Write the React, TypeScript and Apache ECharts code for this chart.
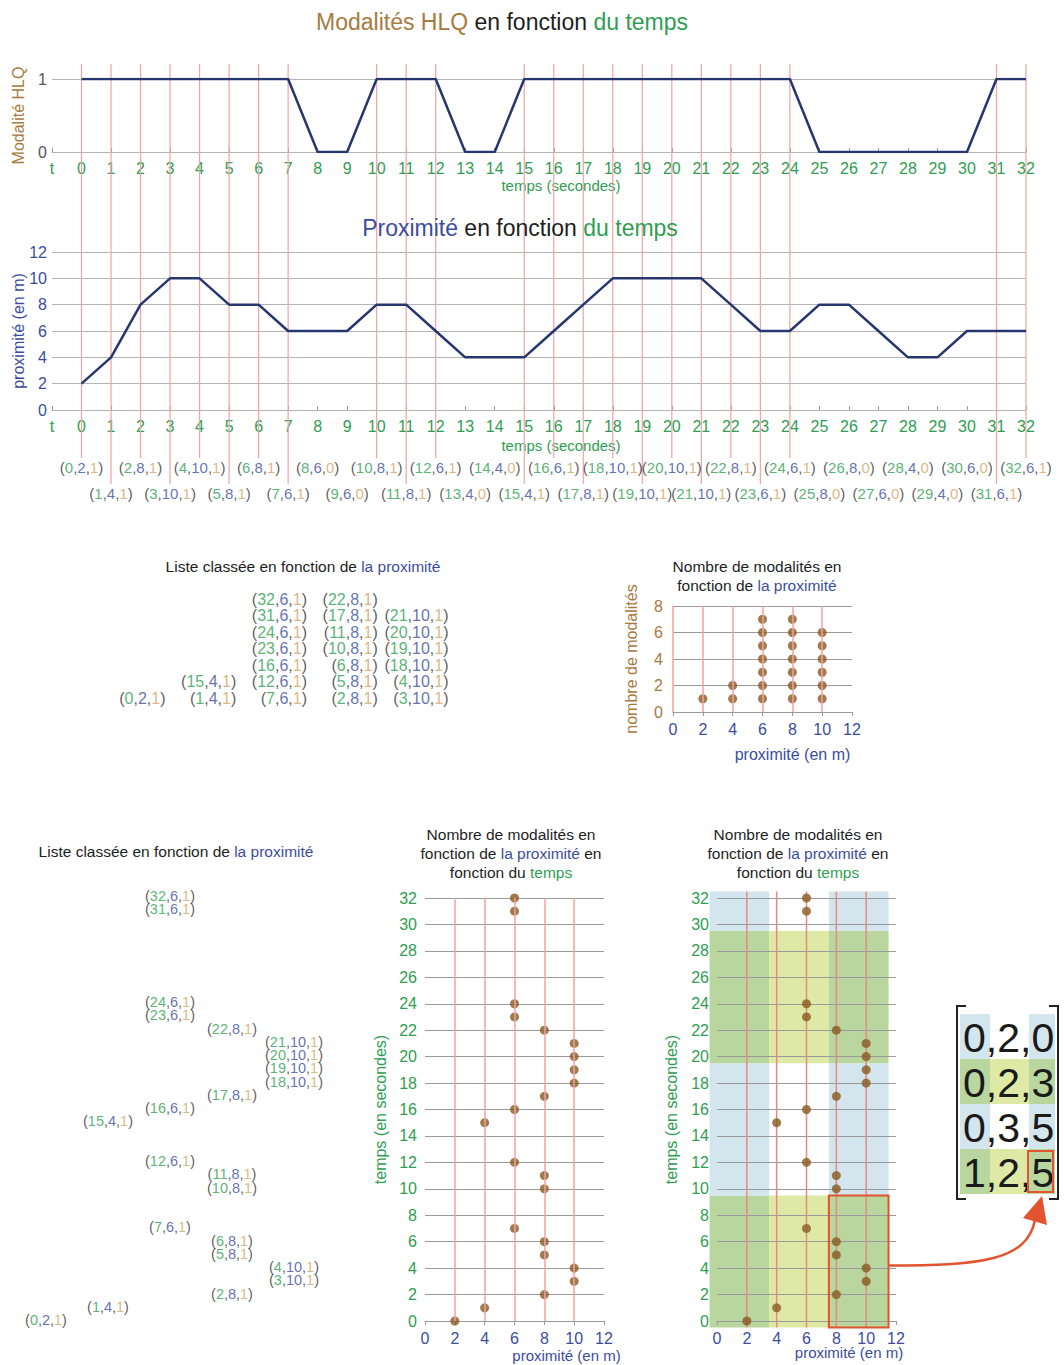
import React, { useEffect, useRef } from "react";
import * as echarts from "echarts";

// ---------------- data ----------------
const times = [0, 1, 2, 3, 4, 5, 6, 7, 8, 9, 10, 11, 12, 13, 14, 15, 16, 17, 18, 19, 20, 21, 22, 23, 24, 25, 26, 27, 28, 29, 30, 31, 32];
const hlq = [1, 1, 1, 1, 1, 1, 1, 1, 0, 0, 1, 1, 1, 0, 0, 1, 1, 1, 1, 1, 1, 1, 1, 1, 1, 0, 0, 0, 0, 0, 0, 1, 1];
const prox = [2, 4, 8, 10, 10, 8, 8, 6, 6, 6, 8, 8, 6, 4, 4, 4, 6, 8, 10, 10, 10, 10, 8, 6, 6, 8, 8, 6, 4, 4, 6, 6, 6];
const proxLevels = [2, 4, 6, 8, 10];
const proxBins = [[-0.5, 3.5], [3.5, 7.5], [7.5, 11.5]];
const timeBins = [[-0.5, 9.5], [9.5, 19.5], [19.5, 29.5], [29.5, 32.5]];
const matrixRows = [[0, 2, 0], [0, 2, 3], [0, 3, 5], [1, 2, 5]];
const highlightBin = { time: 0, prox: 2 };
const firstTickLabel = "t";

// ---------------- styles / layout ----------------
const FONT = "'Liberation Sans', Arial, Helvetica, sans-serif";
const C = {
  green: "#2f9e52",
  blue: "#3c4d9e",
  brown: "#a87a3e",
  tan: "#d4a464",
  dark: "#1e1e1e",
  punct: "#333333",
  line: "#26366f",
  redLine: "#f2a2a2",
  red: "#e2542f",
  point: "#8a5a22",
  grid: "#b4b4b4",
  gridDark: "#9a9a9a",
  bandBlue: "#d3e6ed",
  bandGreen: "#b8d69e",
  bandYellow: "#dfe9a6",
};
const G = [
  { left: 52, top: 79, width: 974, height: 73 }, // 0 HLQ
  { left: 52, top: 252, width: 974, height: 158 }, // 1 proximité
  { left: 52, top: 467, width: 974, height: 26 }, // 2 tuples
  { left: 166, top: 599, width: 283, height: 99 }, // 3 list 1
  { left: 673, top: 606, width: 179, height: 106 }, // 4 counts
  { left: 46, top: 896, width: 248, height: 424 }, // 5 list 2
  { left: 425, top: 898, width: 179, height: 423 }, // 6 scatter
  { left: 717, top: 898, width: 179, height: 423 }, // 7 scatter with bands
];
const RED_TOP = 64;
const RED_BOTTOM_EVEN = 458;
const RED_BOTTOM_ODD = 484;
const MX = [960, 990, 1029, 1055];
const MY0 = 1014;
const MRH = 45;

// ---------------- derived ----------------
const tuples = times.map((t, i) => ({ t, p: prox[i], m: hlq[i] }));
const active = tuples.filter((d) => d.m === 1);
const ranked: number[][] = [];
proxLevels.forEach((p) => {
  active
    .filter((d) => d.p === p)
    .forEach((d, k) => ranked.push([p, k + 1, d.t, d.p, d.m]));
});

const cellColor = (ti: number, pj: number) =>
  ti % 2 === 0 ? (pj === 1 ? C.bandYellow : C.bandGreen) : pj === 1 ? null : C.bandBlue;

const tupleRich = (fs: number, lh?: number) => {
  const mk = (color: string) => ({ color, fontSize: fs, fontFamily: FONT, ...(lh ? { lineHeight: lh } : {}) });
  return { d: mk(C.punct), t: mk(C.green), p: mk(C.blue), m: mk(C.tan) };
};
const tupleFmt = (t: number, p: number, m: number) =>
  `{d|(}{t|${t}}{d|,}{p|${p}}{d|,}{m|${m}}{d|)}`;

const lbl = (color: string, size = 16, margin = 8) => ({ color, fontSize: size, fontFamily: FONT, margin });

function timeXAxis(gridIndex: number, nameGap: number) {
  return {
    gridIndex,
    type: "value",
    min: -1,
    max: 32,
    interval: 1,
    axisLine: { show: true, lineStyle: { color: C.grid } },
    axisTick: { show: true, inside: true, length: 4, lineStyle: { color: C.gridDark } },
    axisLabel: { ...lbl(C.green, 16, 8), formatter: (v: number) => (v === -1 ? firstTickLabel : String(v)) },
    splitLine: { show: false },
    name: "temps (secondes)",
    nameLocation: "middle",
    nameGap,
    nameMoveOverlap: false,
    nameTextStyle: { color: C.green, fontSize: 15, fontFamily: FONT, padding: [0, 0, 0, 44] },
  };
}

function proxXAxis(gridIndex: number, nameGap: number, padLeft: number, nameSize = 16) {
  return {
    gridIndex,
    type: "value",
    min: 0,
    max: 12,
    interval: 2,
    axisLine: { show: true, lineStyle: { color: C.gridDark } },
    axisTick: { show: true, length: 4, lineStyle: { color: C.gridDark } },
    axisLabel: lbl(C.blue, 16, 9),
    splitLine: { show: false },
    name: "proximité (en m)",
    nameLocation: "middle",
    nameGap,
    nameMoveOverlap: false,
    nameTextStyle: { color: C.blue, fontSize: nameSize, fontFamily: FONT, padding: [0, 0, 0, padLeft] },
  };
}

function valYAxis(gridIndex: number, max: number, interval: number, color: string, name: string, nameGap: number, nameColor: string, margin: number, nameSize = 16) {
  return {
    gridIndex,
    type: "value",
    min: 0,
    max,
    interval,
    axisLine: { show: false },
    axisTick: { show: false },
    axisLabel: lbl(color, 16, margin),
    splitLine: { show: true, lineStyle: { color: C.gridDark, width: 1 } },
    name,
    nameLocation: "middle",
    nameGap,
    nameMoveOverlap: false,
    nameTextStyle: { color: nameColor, fontSize: nameSize, fontFamily: FONT },
  };
}

const hidden = (gridIndex: number, min: number, max: number) => ({ gridIndex, type: "value", min, max, show: false });

function buildOption(): any {
  const grid = G.map((g) => ({ ...g, containLabel: false, outerBoundsMode: "none", show: false }));

  const xAxis = [
    timeXAxis(0, 26),
    timeXAxis(1, 28),
    hidden(2, -1, 32),
    hidden(3, 2, 10),
    proxXAxis(4, 34, 60),
    hidden(5, 2, 10),
    proxXAxis(6, 27, 104, 15),
    proxXAxis(7, 24, 85, 15),
  ];
  const y0 = valYAxis(0, 1, 1, "#555555", "Modalité HLQ", 26, C.brown, 5, 16);
  (y0 as any).splitLine.lineStyle.color = C.grid;
  const y1 = valYAxis(1, 12, 2, C.blue, "proximité (en m)", 26, C.blue, 5, 16);
  (y1 as any).splitLine.lineStyle.color = C.grid;
  const yAxis = [
    y0,
    y1,
    hidden(2, 0, 1),
    hidden(3, 1, 7),
    valYAxis(4, 8, 2, C.brown, "nombre de modalités", 34, C.brown, 10),
    hidden(5, 0, 32),
    valYAxis(6, 32, 2, C.green, "temps (en secondes)", 37, C.green, 8),
    valYAxis(7, 32, 2, C.green, "temps (en secondes)", 38, C.green, 8),
  ];

  const redMark = (vals: number[]) => ({
    silent: true,
    symbol: ["none", "none"],
    label: { show: false },
    lineStyle: { color: C.redLine, width: 1.5, type: "solid" },
    emphasis: { disabled: true },
    data: vals.map((v) => ({ xAxis: v })),
  });

  const series: any[] = [
    {
      type: "line",
      xAxisIndex: 0,
      yAxisIndex: 0,
      data: times.map((t, i) => [t, hlq[i]]),
      symbol: "none",
      lineStyle: { color: C.line, width: 2.5 },
      z: 3,
      silent: true,
    },
    {
      type: "line",
      xAxisIndex: 1,
      yAxisIndex: 1,
      data: times.map((t, i) => [t, prox[i]]),
      symbol: "none",
      lineStyle: { color: C.line, width: 2.5 },
      z: 3,
      silent: true,
    },
    {
      type: "custom",
      xAxisIndex: 1,
      yAxisIndex: 1,
      clip: false,
      silent: true,
      z: 1,
      data: active.map((d) => [d.t, 0]),
      encode: { x: 0, y: 1 },
      renderItem: (_p: any, api: any) => {
        const t = api.value(0);
        const x = api.coord([t, 0])[0];
        return {
          type: "line",
          shape: { x1: x, y1: RED_TOP, x2: x, y2: t % 2 === 0 ? RED_BOTTOM_EVEN : RED_BOTTOM_ODD },
          style: { stroke: C.redLine, lineWidth: 1.2 },
        };
      },
    },
    {
      type: "scatter",
      xAxisIndex: 2,
      yAxisIndex: 2,
      data: tuples.map((d) => [d.t, d.t % 2 === 0 ? 1 : 0, d.p, d.m]),
      symbolSize: 1,
      itemStyle: { color: "rgba(0,0,0,0)" },
      silent: true,
      label: {
        show: true,
        position: "inside",
        formatter: (p: any) => tupleFmt(p.value[0], p.value[2], p.value[3]),
        rich: tupleRich(15),
      },
    },
    {
      type: "scatter",
      xAxisIndex: 3,
      yAxisIndex: 3,
      data: ranked,
      symbolSize: 1,
      itemStyle: { color: "rgba(0,0,0,0)" },
      silent: true,
      label: {
        show: true,
        position: "left",
        distance: 0,
        formatter: (p: any) => tupleFmt(p.value[2], p.value[3], p.value[4]),
        rich: tupleRich(16, 16),
      },
    },
    {
      type: "scatter",
      xAxisIndex: 4,
      yAxisIndex: 4,
      data: ranked.map((r) => [r[0], r[1]]),
      symbolSize: 9,
      itemStyle: { color: C.point },
      silent: true,
      z: 3,
      markLine: redMark([0, ...proxLevels]),
    },
    {
      type: "scatter",
      xAxisIndex: 5,
      yAxisIndex: 5,
      data: active.map((d) => [d.p, d.t, d.m]),
      symbolSize: 1,
      itemStyle: { color: "rgba(0,0,0,0)" },
      silent: true,
      label: {
        show: true,
        position: "inside",
        formatter: (p: any) => tupleFmt(p.value[1], p.value[0], p.value[2]),
        rich: tupleRich(14.5, 12),
      },
    },
    {
      type: "scatter",
      xAxisIndex: 6,
      yAxisIndex: 6,
      data: active.map((d) => [d.p, d.t]),
      symbolSize: 9,
      itemStyle: { color: C.point },
      silent: true,
      z: 3,
      markLine: redMark(proxLevels),
    },
    // bands
    {
      type: "custom",
      xAxisIndex: 7,
      yAxisIndex: 7,
      clip: false,
      silent: true,
      z: -1,
      data: timeBins.flatMap((tb, i) => proxBins.map((pb, j) => [pb[0], pb[1], tb[0], tb[1], i, j])),
      encode: { x: [0, 1], y: [2, 3] },
      renderItem: (_p: any, api: any) => {
        const a = api.coord([api.value(0), api.value(3)]);
        const b = api.coord([api.value(1), api.value(2)]);
        const col = cellColor(api.value(4), api.value(5));
        if (!col) return { type: "group", children: [] };
        return { type: "rect", shape: { x: a[0], y: a[1], width: b[0] - a[0], height: b[1] - a[1] }, style: { fill: col } };
      },
    },
    {
      type: "custom",
      xAxisIndex: 7,
      yAxisIndex: 7,
      clip: false,
      silent: true,
      z: 1,
      data: proxLevels.map((p) => [p, 0]),
      encode: { x: 0, y: 1 },
      renderItem: (_p: any, api: any) => {
        const a = api.coord([api.value(0), timeBins[timeBins.length - 1][1]]);
        const b = api.coord([api.value(0), timeBins[0][0]]);
        return { type: "line", shape: { x1: a[0], y1: a[1], x2: b[0], y2: b[1] }, style: { stroke: "#e88a80", lineWidth: 1.5 } };
      },
    },
    {
      type: "scatter",
      xAxisIndex: 7,
      yAxisIndex: 7,
      data: active.map((d) => [d.p, d.t]),
      symbolSize: 9,
      itemStyle: { color: C.point },
      silent: true,
      z: 3,
    },
    {
      type: "custom",
      xAxisIndex: 7,
      yAxisIndex: 7,
      clip: false,
      silent: true,
      z: 5,
      data: [[proxBins[highlightBin.prox][0], proxBins[highlightBin.prox][1], timeBins[highlightBin.time][0], timeBins[highlightBin.time][1]]],
      encode: { x: [0, 1], y: [2, 3] },
      renderItem: (_p: any, api: any) => {
        const a = api.coord([api.value(0), api.value(3)]);
        const b = api.coord([api.value(1), api.value(2)]);
        return { type: "rect", shape: { x: a[0], y: a[1], width: b[0] - a[0], height: b[1] - a[1] }, style: { fill: "none", stroke: C.red, lineWidth: 2 } };
      },
    },
  ];

  return { animation: false, backgroundColor: "#ffffff", grid, xAxis, yAxis, series };
}

const rich = (size: number, lineHeight?: number) => {
  const mk = (fill: string) => ({ fill, fontSize: size, fontFamily: FONT, ...(lineHeight ? { lineHeight } : {}) });
  return { k: mk(C.dark), b: mk(C.blue), g: mk(C.green), o: mk(C.brown) };
};
const titleEl = (x: number, y: number, text: string, size: number, lineHeight?: number) => ({
  type: "text",
  x,
  y,
  z: 10,
  silent: true,
  style: { text, rich: rich(size, lineHeight), align: "center", verticalAlign: "middle", fontSize: size, fontFamily: FONT, fill: C.dark },
});

function buildGraphics(chart: any): any[] {
  const els: any[] = [];
  els.push(titleEl(502, 22, "{o|Modalités HLQ} {k|en fonction} {g|du temps}", 23));
  els.push(titleEl(520, 228, "{b|Proximité} {k|en fonction} {g|du temps}", 23));
  els.push(titleEl(303, 566, "{k|Liste classée en fonction de }{b|la proximité}", 15.5));
  els.push(titleEl(757, 576, "{k|Nombre de modalités en}\n{k|fonction de }{b|la proximité}", 15.5, 19));
  els.push(titleEl(176, 851, "{k|Liste classée en fonction de }{b|la proximité}", 15.5));
  els.push(titleEl(511, 853, "{k|Nombre de modalités en}\n{k|fonction de }{b|la proximité}{k| en}\n{k|fonction du }{g|temps}", 15.5, 19));
  els.push(titleEl(798, 853, "{k|Nombre de modalités en}\n{k|fonction de }{b|la proximité}{k| en}\n{k|fonction du }{g|temps}", 15.5, 19));

  // matrix cells
  matrixRows.forEach((row, r) => {
    const tb = timeBins.length - 1 - r;
    row.forEach((_v, c) => {
      const col = cellColor(tb, c);
      if (col) {
        els.push({ type: "rect", z: 10, silent: true, shape: { x: MX[c], y: MY0 + r * MRH, width: MX[c + 1] - MX[c], height: MRH }, style: { fill: col } });
      }
    });
    els.push({
      type: "text",
      z: 11,
      silent: true,
      x: MX[0] + 3,
      y: MY0 + r * MRH + MRH / 2 + 1,
      style: { text: row.join(","), fontSize: 41, fontFamily: FONT, fill: "#1a1a1a", align: "left", verticalAlign: "middle" },
    });
  });
  // brackets
  const bt = MY0 - 8;
  const bb = MY0 + matrixRows.length * MRH + 5;
  els.push({ type: "polyline", z: 12, silent: true, shape: { points: [[MX[0] + 6, bt], [MX[0] - 3, bt], [MX[0] - 3, bb], [MX[0] + 6, bb]] }, style: { stroke: "#222", lineWidth: 2, fill: "none" } });
  els.push({ type: "polyline", z: 12, silent: true, shape: { points: [[MX[3] - 6, bt], [MX[3] + 3, bt], [MX[3] + 3, bb], [MX[3] - 6, bb]] }, style: { stroke: "#222", lineWidth: 2, fill: "none" } });
  // highlighted matrix cell
  const hr = matrixRows.length - 1 - highlightBin.time;
  const hc = highlightBin.prox;
  els.push({ type: "rect", z: 12, silent: true, shape: { x: MX[hc] - 1, y: MY0 + hr * MRH + 2, width: MX[hc + 1] - MX[hc] - 1, height: MRH - 4 }, style: { fill: "none", stroke: C.red, lineWidth: 2 } });

  // arrow from the red box to the matrix cell
  const s = chart.convertToPixel({ gridIndex: 7 }, [proxBins[highlightBin.prox][1], 4.2]);
  const tipX = MX[hc] + 13;
  const tipY = MY0 + hr * MRH + MRH + 2;
  const endX = tipX - 7;
  const endY = tipY + 24;
  els.push({
    type: "bezierCurve",
    z: 12,
    silent: true,
    shape: { x1: s[0], y1: s[1], cpx1: s[0] + 90, cpy1: s[1], cpx2: endX - 8, cpy2: s[1] - 4, x2: endX, y2: endY },
    style: { stroke: C.red, lineWidth: 2.5, fill: "none" },
  });
  els.push({
    type: "polygon",
    z: 12,
    silent: true,
    shape: { points: [[tipX, tipY], [endX - 12, endY - 2], [endX + 12, endY + 5]] },
    style: { fill: C.red },
  });
  return els;
}

export default function App() {
  const ref = useRef<HTMLDivElement>(null);
  useEffect(() => {
    const el = ref.current;
    if (!el) return;
    const chart = echarts.init(el, null, { renderer: "svg" });
    chart.setOption(buildOption());
    chart.setOption({ graphic: buildGraphics(chart) });
    return () => chart.dispose();
  }, []);
  return (
    <div
      ref={ref}
      style={{ position: "absolute", left: 0, top: 0, width: 1064, height: 1365, background: "#fff" }}
    />
  );
}
